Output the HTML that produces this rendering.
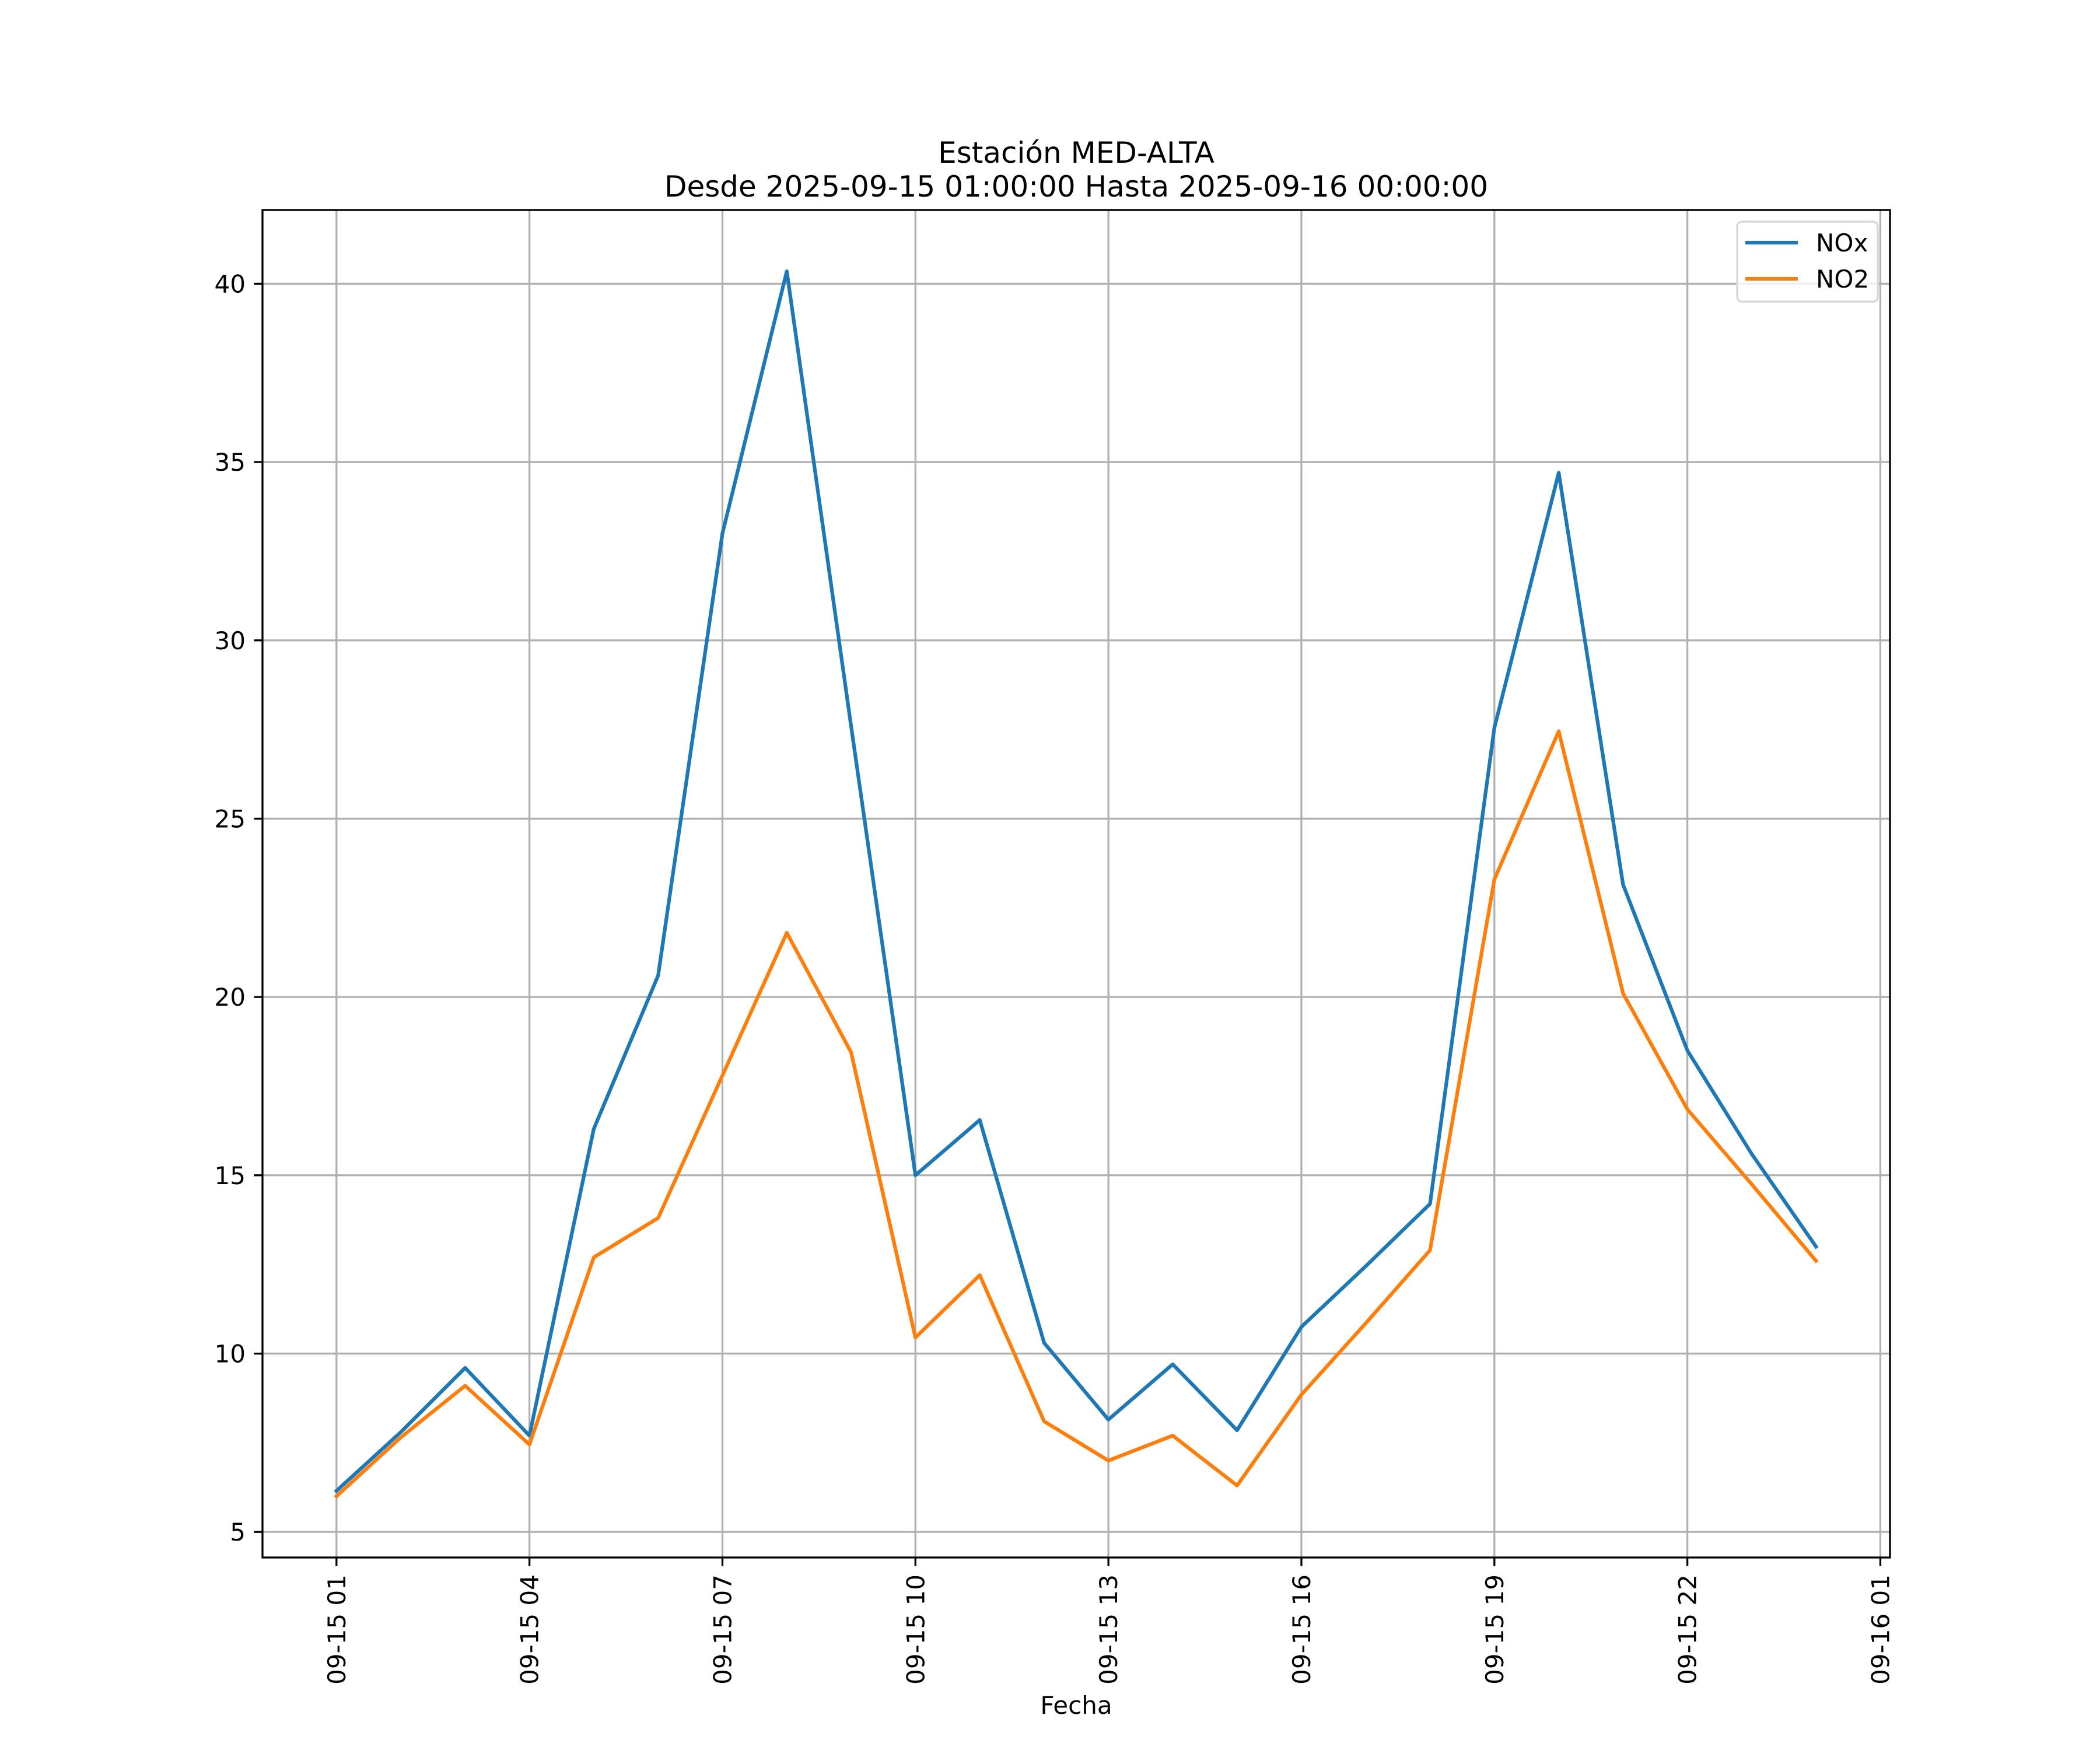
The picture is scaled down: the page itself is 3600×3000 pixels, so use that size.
<!DOCTYPE html>
<html><head><meta charset="utf-8"><style>
html,body{margin:0;padding:0;background:#fff;}
svg{display:block;font-family:"DejaVu Sans","Liberation Sans",sans-serif;}
</style></head><body>
<svg id="chart" width="3600" height="3000" viewBox="0 0 3600 3000" xmlns="http://www.w3.org/2000/svg">
<rect width="3600" height="3000" fill="#fff"/>
<text x="1845" y="279" font-size="50" text-anchor="middle">Estación MED-ALTA</text>
<text x="1845" y="337" font-size="50" text-anchor="middle">Desde 2025-09-15 01:00:00 Hasta 2025-09-16 00:00:00</text>
<g id="grid"></g>
<g id="series"></g>
<rect x="450" y="360" width="2790" height="2310" fill="none" stroke="#000" stroke-width="3.3"/>
<g id="ticks"></g>
<text x="1845" y="2938" font-size="42" text-anchor="middle">Fecha</text>
<g>
<rect x="2978" y="380" width="241" height="137" rx="8" fill="#fff" fill-opacity="0.8" stroke="#d6d6d6" stroke-width="3.3"/>
<line x1="2992" y1="416" x2="3082" y2="416" stroke="#1f77b4" stroke-width="6.25"/>
<text x="3113" y="431" font-size="42">NOx</text>
<line x1="2992" y1="478" x2="3082" y2="478" stroke="#ff7f0e" stroke-width="6.25"/>
<text x="3113" y="493" font-size="42">NO2</text>
</g>
</svg>
<script>
const hours = [1,2,3,4,5,6,7,8,9,10,11,12,13,14,15,16,17,18,19,20,21,22,23,24];
const noxValues = [6.15,7.8,9.6,7.7,16.3,20.6,33.0,40.35,27.6,15.0,16.55,10.3,8.15,9.7,7.85,10.75,12.45,14.2,27.55,34.7,23.15,18.5,15.6,13.0];
const no2Values = [6.0,7.65,9.1,7.45,12.7,13.8,17.8,21.8,18.45,10.45,12.2,8.1,7.0,7.7,6.3,8.85,10.85,12.9,23.3,27.45,20.1,16.85,14.75,12.6];
const xTickHours = [1,4,7,10,13,16,19,22,25];
const xTickLabels = ["09-15 01","09-15 04","09-15 07","09-15 10","09-15 13","09-15 16","09-15 19","09-15 22","09-16 01"];
const yTicks = [5,10,15,20,25,30,35,40];

const L=450,R=3240,T=360,B=2670;
const allV = noxValues.concat(no2Values);
const vmin=Math.min(...allV), vmax=Math.max(...allV), vr=vmax-vmin;
const y0=vmin-0.05*vr, y1=vmax+0.05*vr;
const hmin=Math.min(...hours), hmax=Math.max(...hours), hr=hmax-hmin;
const x0=hmin-0.05*hr, x1=hmax+0.05*hr;
const X=h=>L+(h-x0)/(x1-x0)*(R-L);
const Y=v=>B-(v-y0)/(y1-y0)*(B-T);
const NS="http://www.w3.org/2000/svg";
function mk(tag,attrs,parent){const e=document.createElementNS(NS,tag);for(const k in attrs)e.setAttribute(k,attrs[k]);parent.appendChild(e);return e;}
const grid=document.getElementById('grid'), ticks=document.getElementById('ticks'), series=document.getElementById('series');
xTickHours.forEach((h,i)=>{
  const x=X(h);
  const g=mk('line',{x1:x,x2:x,y1:T,y2:B,stroke:'#b0b0b0','stroke-width':3.3},grid);
  
  
  const t=mk('line',{x1:x,x2:x,y1:B,y2:B+14.6,stroke:'#000','stroke-width':3.3},ticks);
  
  
  const lb=mk('text',{x:0,y:0,'font-size':42,'text-anchor':'end',transform:`translate(${x+15},${B+29}) rotate(-90)`},ticks);
  lb.textContent=xTickLabels[i];
  
  
});
yTicks.forEach(v=>{
  const y=Y(v);
  const g=mk('line',{x1:L,x2:R,y1:y,y2:y,stroke:'#b0b0b0','stroke-width':3.3},grid);
  
  
  const t=mk('line',{x1:L-14.6,x2:L,y1:y,y2:y,stroke:'#000','stroke-width':3.3},ticks);
  
  
  const lb=mk('text',{x:L-29,y:y+15,'font-size':42,'text-anchor':'end'},ticks);
  lb.textContent=String(v);
  
  
});
function drawLine(vals,color,name){
  const pts=hours.map((h,i)=>X(h).toFixed(1)+','+Y(vals[i]).toFixed(1)).join(' ');
  const p=mk('polyline',{points:pts,fill:'none',stroke:color,'stroke-width':6.25,'stroke-linejoin':'round','stroke-linecap':'square'},series);
  
  
}
drawLine(noxValues,'#1f77b4','nox-line');
drawLine(no2Values,'#ff7f0e','no2-line');
</script>
</body></html>
